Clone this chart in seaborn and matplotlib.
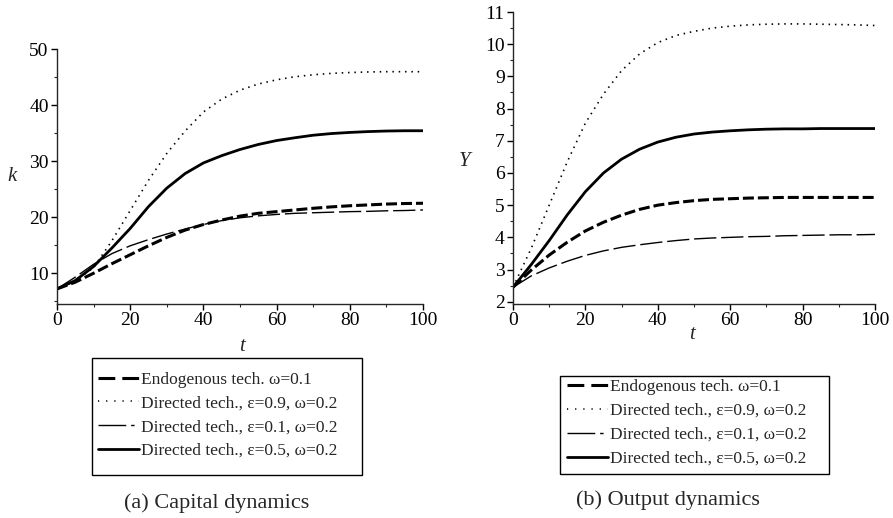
import numpy as np
import pandas as pd
import matplotlib
matplotlib.use("Agg")
import matplotlib.pyplot as plt
from matplotlib.lines import Line2D
from matplotlib.patches import Rectangle
from matplotlib.ticker import MultipleLocator
import seaborn as sns

# ---------------- data ----------------
t = [0, 5, 10, 15, 20, 25, 30, 35, 40, 45, 50, 55, 60, 65, 70, 75, 80, 85, 90, 95, 100]

# (a) capital k
k_endog = [7.2, 8.4, 10.0, 11.7, 13.3, 14.9, 16.4, 17.7, 18.7, 19.5, 20.2, 20.7, 21.0,
           21.3, 21.6, 21.85, 22.05, 22.2, 22.35, 22.45, 22.5]
k_eps09 = [7.2, 8.6, 11.0, 15.8, 21.2, 26.6, 31.4, 35.4, 38.8, 41.1, 42.7, 43.8, 44.55,
           45.1, 45.45, 45.7, 45.85, 45.95, 46.0, 46.0, 46.0]
k_eps01 = [7.2, 9.3, 11.6, 13.5, 14.9, 16.0, 17.0, 17.9, 18.7, 19.4, 19.9, 20.25, 20.5,
           20.7, 20.8, 20.9, 21.0, 21.05, 21.15, 21.2, 21.3]
k_eps05 = [7.2, 8.7, 11.2, 14.5, 18.0, 21.9, 25.2, 27.8, 29.7, 31.0, 32.1, 33.0, 33.7,
           34.2, 34.65, 34.95, 35.15, 35.3, 35.4, 35.45, 35.45]

# (b) output Y
y_endog = [2.45, 2.98, 3.45, 3.85, 4.2, 4.47, 4.69, 4.87, 5.0, 5.08, 5.14, 5.18, 5.2,
           5.22, 5.23, 5.24, 5.24, 5.24, 5.24, 5.24, 5.24]
y_eps09 = [2.45, 3.65, 5.0, 6.35, 7.55, 8.45, 9.18, 9.7, 10.05, 10.27, 10.4, 10.5, 10.56,
           10.6, 10.62, 10.63, 10.63, 10.62, 10.61, 10.6, 10.58]
y_eps01 = [2.45, 2.8, 3.05, 3.26, 3.44, 3.58, 3.69, 3.77, 3.84, 3.9, 3.95, 3.98, 4.0,
           4.02, 4.03, 4.05, 4.06, 4.07, 4.08, 4.08, 4.09]
y_eps05 = [2.45, 3.15, 3.9, 4.7, 5.42, 6.0, 6.43, 6.74, 6.96, 7.11, 7.21, 7.27, 7.31,
           7.34, 7.36, 7.37, 7.37, 7.38, 7.38, 7.38, 7.38]

labels = ["Endogenous tech. \u03c9=0.1",
          "Directed tech., \u03b5=0.9, \u03c9=0.2",
          "Directed tech., \u03b5=0.1, \u03c9=0.2",
          "Directed tech., \u03b5=0.5, \u03c9=0.2"]

x_ticks = [0, 20, 40, 60, 80, 100]
k_ticks = [10, 20, 30, 40, 50]
y_ticks = [2, 3, 4, 5, 6, 7, 8, 9, 10, 11]

# ---------------- style ----------------
sns.set_style("ticks")
plt.rcParams["font.family"] = ["Liberation Serif", "DejaVu Serif"]

plot_styles = [
    dict(lw=2.2, ls=(0, (3.6, 1.3))),   # endogenous: thick dash
    dict(lw=1.2, ls=(0, (0.9, 2.9))),   # eps 0.9: dotted
    dict(lw=1.0, ls=(0, (16, 3.5))),    # eps 0.1: thin long dash
    dict(lw=2.0, ls="-"),               # eps 0.5: solid
]
legend_styles = [
    dict(lw=2.2, ls=(0, (5.5, 2.3))),
    dict(lw=1.2, ls=(0, (0.7, 4.2))),
    dict(lw=1.0, ls=(0, (20, 3.5, 2.5, 10))),
    dict(lw=2.0, ls="-"),
]

W, H = 893, 518
fig = plt.figure(figsize=(W / 100, H / 100), dpi=100)

def px_axes(x0, x1, y0, y1):
    return fig.add_axes([x0 / W, 1 - y1 / H, (x1 - x0) / W, (y1 - y0) / H])

axA = px_axes(57, 423, 49.3, 304)
axB = px_axes(513, 875, 12, 304)

def draw(ax, series):
    for vals, st in zip(series, plot_styles):
        df = pd.DataFrame({"t": t, "v": vals})
        sns.lineplot(data=df, x="t", y="v", ax=ax, color="black",
                     linewidth=st["lw"], linestyle=st["ls"])

draw(axA, [k_endog, k_eps09, k_eps01, k_eps05])
draw(axB, [y_endog, y_eps09, y_eps01, y_eps05])

axA.set_xlim(0, 100)
axA.set_ylim(4.5, 50)
axA.set_xticks(x_ticks)
axA.set_yticks(k_ticks)
axA.xaxis.set_minor_locator(MultipleLocator(10))
axA.yaxis.set_minor_locator(MultipleLocator(5))

axB.set_xlim(0, 100)
axB.set_ylim(1.93, 11)
axB.set_xticks(x_ticks)
axB.set_yticks(y_ticks)
axB.xaxis.set_minor_locator(MultipleLocator(10))
axB.yaxis.set_minor_locator(MultipleLocator(0.5))

for ax in (axA, axB):
    sns.despine(ax=ax)
    ax.spines["left"].set_linewidth(1.0)
    ax.spines["bottom"].set_linewidth(1.0)
    ax.tick_params(which="major", direction="out", length=4, width=1.0,
                   labelsize=14, colors="black", pad=2)
    ax.tick_params(which="minor", direction="out", length=2.5, width=0.8)
    ax.set_xlabel("")
    ax.set_ylabel("")

# axis labels
axA.text(-0.124, 0.50, "k", transform=axA.transAxes, fontsize=15,
         style="italic", ha="center", va="center")
axA.text(0.505, -0.165, "t", transform=axA.transAxes, fontsize=15,
         style="italic", ha="center", va="center")
axB.text(-0.133, 0.487, "Y", transform=axB.transAxes, fontsize=15,
         style="italic", ha="center", va="center")
axB.text(0.494, -0.105, "t", transform=axB.transAxes, fontsize=15,
         style="italic", ha="center", va="center")

# legends (frame drawn separately to match the reference box sizes)
def make_handles():
    return [Line2D([], [], color="black", linewidth=s["lw"], linestyle=s["ls"])
            for s in legend_styles]

def legend_box(x0, y0, x1, y1, hx, row_top, spacing):
    fig.add_artist(Rectangle((x0 / W, 1 - y1 / H), (x1 - x0) / W, (y1 - y0) / H,
                             transform=fig.transFigure, fill=False,
                             edgecolor="black", linewidth=1.0))
    fig.legend(make_handles(), labels, loc="upper left",
               bbox_to_anchor=(hx / W, 1 - row_top / H), fontsize=12.5,
               frameon=False, handlelength=2.35, handletextpad=0.12,
               labelspacing=spacing, borderpad=0, borderaxespad=0)

legend_box(92, 358, 362, 475, 98, 371.5, 0.44)
legend_box(560, 376, 829, 474, 567, 378.5, 0.46)

# captions
fig.text(217 / W, 1 - 503 / H, "(a) Capital dynamics", fontsize=16,
         ha="center", va="center")
fig.text(668 / W, 1 - 500 / H, "(b) Output dynamics", fontsize=16,
         ha="center", va="center")

fig.savefig("out.png", dpi=100)
